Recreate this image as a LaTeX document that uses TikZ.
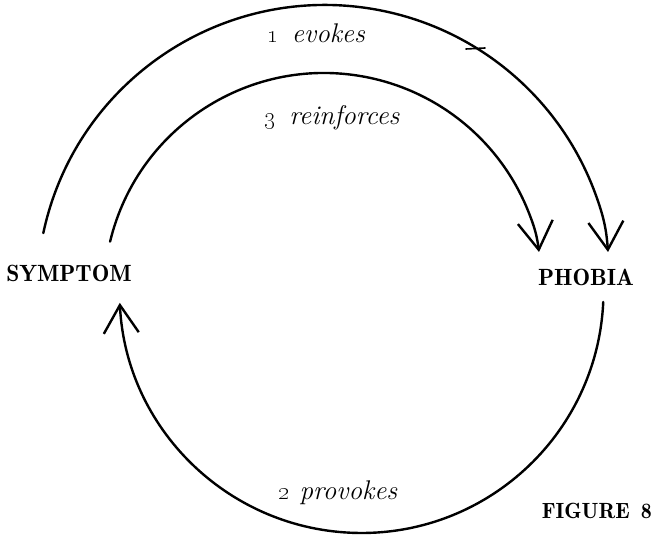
\documentclass[tikz,border=0pt]{standalone}
\usetikzlibrary{arrows.meta,calc}
\newcommand{\stepnum}[1]{{\fontseries{b}\selectfont\oldstylenums{#1}}}
\begin{document}
\begin{tikzpicture}[x=1pt,y=1pt,
  term/.style={font=\fontsize{23.5}{28}\fontseries{b}\selectfont, inner sep=0pt},
  lbl/.style={font=\fontsize{27}{31}\selectfont\itshape, inner sep=0pt, anchor=base},
  link/.style={line width=2.4pt, line cap=round,
    -{Straight Barb[length=28pt,width=35pt,line width=2.4pt]}},
  fleck/.style={line width=1.6pt, line cap=round}]
\useasboundingbox (0,0) rectangle (657,541);

% the two terms
\node[term] (symptom) at (69,268) {SYMPTOM};
\node[term] (phobia) at (586,264) {PHOBIA};

% centres of the three circular arcs
\coordinate (cu) at (325,248);
\coordinate (ci) at (324,248);
\coordinate (cb) at (361.5,250);

% arc end points and arrow tips above PHOBIA
\coordinate (s1) at ($(cu)+(168:288)$);
\coordinate (s3) at ($(ci)+(166.5:220)$);
\coordinate (s2) at ($(cb)+(-2.6:242)$);
\coordinate (t1) at (608,289);
\coordinate (t3) at (539,289);

% 1: symptom evokes phobia (outer arc)
\draw[link] (s1) arc[start angle=168, end angle=20, radius=288]
  to[out=-70, in=94] (t1);
% 3: symptom reinforces phobia (inner arc)
\draw[link] (s3) arc[start angle=166.5, end angle=22, radius=220]
  to[out=-68, in=97] (t3);
% 2: phobia provokes symptom (lower arc)
\draw[link] (s2) arc[start angle=-2.6, end angle=-177.2, radius=242];

% small pen fleck on the outer arc
\draw[fleck] (466,492) -- (485,493);

% arc labels
\node[lbl] (evokes) at (316,498) {\stepnum{1}\hspace{0.5em}evokes};
\node[lbl] (reinforces) at (332,416) {\stepnum{3}\hspace{0.5em}reinforces};
\node[lbl] (provokes) at (338,41) {\stepnum{2} provokes};

% caption
\node[term, font=\fontsize{22}{26}\fontseries{b}\selectfont, anchor=base east]
  (fig) at (652,22) {FIGURE\hspace{0.5em}8};
\end{tikzpicture}
\end{document}
